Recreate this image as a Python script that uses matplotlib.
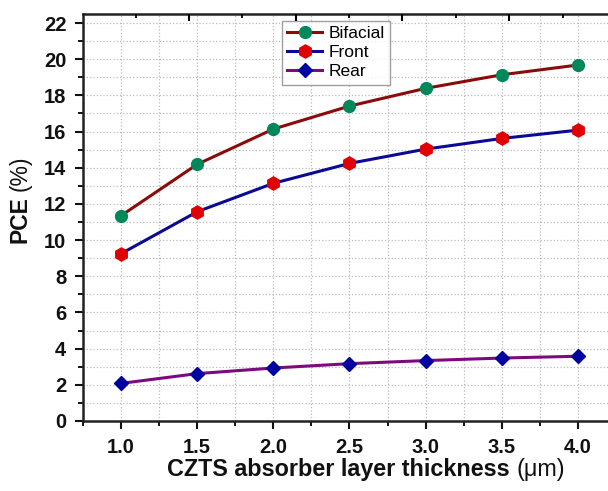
import matplotlib
matplotlib.use("Agg")
import matplotlib.pyplot as plt
from matplotlib.ticker import MultipleLocator, FixedLocator, NullFormatter

plt.rcParams['font.family'] = ['Liberation Sans', 'DejaVu Sans']

thickness = [1.0, 1.5, 2.0, 2.5, 3.0, 3.5, 4.0]
bifacial = [11.35, 14.19, 16.14, 17.41, 18.39, 19.14, 19.68]
front = [9.25, 11.57, 13.14, 14.24, 15.03, 15.62, 16.08]
rear = [2.08, 2.62, 2.93, 3.17, 3.34, 3.48, 3.58]
xticks = [1.0, 1.5, 2.0, 2.5, 3.0, 3.5, 4.0]
yticks = list(range(0, 23, 2))

fig = plt.figure(figsize=(6.08, 4.91), dpi=100)
ax = fig.add_axes([83/608, 1-421/491, (616-83)/608, (421-14)/491])

ax.plot(thickness, bifacial, color='#8B0A0A', lw=2.2, marker='o', ms=8.5,
        mfc='#00875A', mec='#00875A', label='Bifacial', zorder=3)
ax.plot(thickness, front, color='#0A0A96', lw=2.2, marker='h', ms=9.5,
        mfc='#E00000', mec='#E00000', label='Front', zorder=3)
ax.plot(thickness, rear, color='#7D0A7D', lw=2.2, marker='D', ms=7.5,
        mfc='#0000A0', mec='#0000A0', label='Rear', zorder=3)

ax.set_xlim(0.75, 4.25)
ax.set_ylim(0, 22.5)
ax.set_xticks(xticks)
ax.set_xticklabels([f"{v:.1f}" for v in xticks])
ax.set_yticks(yticks)
ax.xaxis.set_minor_locator(MultipleLocator(0.25))
ax.yaxis.set_minor_locator(MultipleLocator(1))
ax.grid(True, which='both', color='#BBBBBB', ls=':', lw=0.9)
ax.set_axisbelow(True)

ax.tick_params(axis='both', which='major', direction='out', length=6, width=1.5,
               labelsize=14.5, colors='#111111', pad=6)
ax.tick_params(axis='both', which='minor', direction='out', length=3.5, width=1.3)
for lab in ax.get_xticklabels() + ax.get_yticklabels():
    lab.set_fontweight('bold')
for sp in ax.spines.values():
    sp.set_linewidth(1.8)
    sp.set_color('#222222')

# top axis inward ticks (Origin artefact)
top = ax.twiny()
top.set_xlim(ax.get_xlim())
top.xaxis.set_major_locator(FixedLocator([1.445, 2.146, 2.847, 3.548]))
top.xaxis.set_minor_locator(FixedLocator([1.095, 1.796, 2.497, 3.198, 3.899]))
top.xaxis.set_major_formatter(NullFormatter())
top.tick_params(axis='x', which='major', direction='in', length=5, width=1.5)
top.tick_params(axis='x', which='minor', direction='in', length=3, width=1.3)
for sp in top.spines.values():
    sp.set_visible(False)

leg = ax.legend(loc='upper left', bbox_to_anchor=((282-83)/533, 1-(21-14)/407),
                fontsize=12.5, frameon=True, fancybox=False, edgecolor='#888888',
                handlelength=2.0, borderpad=0.3, labelspacing=0.22,
                handletextpad=0.4, borderaxespad=0)
leg.get_frame().set_linewidth(1.0)

# x label: bold part + regular unit
fig.text(516/608, 1-476/491, 'CZTS absorber layer thickness ', fontsize=16.8,
         fontweight='bold', ha='right', va='baseline', color='#111111')
fig.text(516/608, 1-476/491, '(\u03bcm)', fontsize=16.8,
         ha='left', va='baseline', color='#111111')
# y label
fig.text(20/608, 1-243/491, 'PCE', fontsize=16.5, fontweight='bold',
         rotation=90, ha='left', va='center', rotation_mode='anchor', color='#111111')
fig.text(20/608, 1-191/491, '(%)', fontsize=16.5,
         rotation=90, ha='left', va='center', rotation_mode='anchor', color='#111111')

fig.savefig('out.png', dpi=100)
